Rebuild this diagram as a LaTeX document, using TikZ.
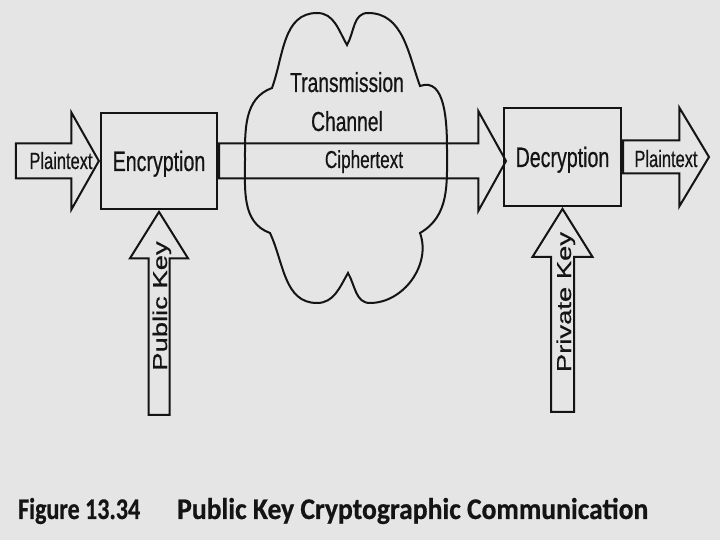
\documentclass[tikz,border=0pt]{standalone}
\usepackage{fontspec}
\usepackage{tikz}
\usetikzlibrary{shapes.arrows, positioning}
\newfontfamily\diafont{Liberation Sans}[FakeStretch=0.7, FakeBold=0.5]
\newfontfamily\keyfont{Liberation Sans}[FakeStretch=1.37, FakeBold=0.5]
\newfontfamily\capfont{Carlito}[FakeStretch=0.92, FakeBold=0.6]
\newfontfamily\capnumfont{Carlito}[FakeStretch=0.8, FakeBold=0.6]
\definecolor{paper}{gray}{0.9}
\definecolor{ink}{gray}{0.08}

\begin{document}
\begin{tikzpicture}[
    x=1pt, y=1pt,
    procbox/.style = {rectangle, draw=ink, line width=2pt, text=ink, inner sep=0pt, text height=20pt, text depth=0pt, font=\diafont\fontsize{28}{32}\selectfont},
    bigarrow/.style = {single arrow, draw=ink, line width=2pt, inner xsep=0pt},
    flowtext/.style = {text=ink, inner sep=0pt, anchor=base},
    keytext/.style = {text=ink, inner sep=0pt, anchor=base, rotate=90, font=\keyfont\fontsize{20}{24}\selectfont},
    cloudline/.style = {draw=ink, line width=2pt},
    captext/.style = {text=ink, inner sep=0pt, anchor=base west, font=\capfont\bfseries\fontsize{30}{34}\selectfont}
]

% Page
\fill [paper] (0,0) rectangle (720,540);
\useasboundingbox (0,0) rectangle (720,540);

% Transmission channel cloud
\draw [cloudline] (347,495) to[out=60,in=180] (368,527) to[out=0,in=110] (420,454)
    to[out=20,in=90] (447,390) to[out=-90,in=30] (420,307)
    to[out=-70,in=0] (370,237) to[out=180,in=-60] (348,267)
    to[out=-120,in=0] (317,237) to[out=180,in=-65] (270,307)
    to[out=160,in=-90] (245,380) to[out=90,in=-160] (272,452)
    to[out=70,in=180] (317,527) to[out=0,in=120] (347,495) -- cycle;
\node (chantop) [flowtext, font=\diafont\fontsize{27.5}{31}\selectfont, at={(347,448)}] {Transmission};
\node (chanbot) [flowtext, font=\diafont\fontsize{27.5}{31}\selectfont, at={(347,409)}] {Channel};

% Boxes
\node (enc) [procbox, minimum width=116pt, minimum height=96pt, at={(159,379)}] {Encryption};
\node (dec) [procbox, minimum width=117pt, minimum height=98pt, at={(562.5,383)}] {Decryption};

% Block arrows
\node (plainin) [bigarrow, anchor=tip, at={(enc.west)}, minimum height=83pt, inner ysep=16.5pt, single arrow head extend=31pt, single arrow tip angle=121] {};
\node (cipher) [bigarrow, anchor=tail, at={(enc.east)}, minimum height=287pt, inner ysep=16.5pt, single arrow head extend=32.5pt, single arrow tip angle=122] {};
\node (plainout) [bigarrow, anchor=tail, at={(dec.east)}, minimum height=86pt, inner ysep=15.5pt, single arrow head extend=33pt, single arrow tip angle=118] {};
\node (pubkey) [bigarrow, rotate=90, anchor=tip, at={(enc.south)}, minimum height=203pt, inner ysep=9.5pt, single arrow head extend=18.5pt, single arrow tip angle=64] {};
\node (privkey) [bigarrow, rotate=90, anchor=tip, at={(dec.south)}, minimum height=203pt, inner ysep=10.5pt, single arrow head extend=18.5pt, single arrow tip angle=64] {};

% Arrow texts
\node (plainintext) [flowtext, font=\diafont\fontsize{23.5}{27}\selectfont, at={(61,371)}] {Plaintext};
\node (ciphertext) [flowtext, font=\diafont\fontsize{24.5}{28}\selectfont, at={(364,372)}] {Ciphertext};
\node (plainouttext) [flowtext, font=\diafont\fontsize{23.5}{27}\selectfont, at={(666,373)}] {Plaintext};
\node (pubkeytext) [keytext, at={(167,234)}] {Public Key};
\node (privkeytext) [keytext, at={(571,238)}] {Private Key};

% Caption
\node (figno) [captext, font=\capnumfont\bfseries\fontsize{30}{34}\selectfont, at={(18,21)}] {Figure 13.34};
\node (figtitle) [captext, at={(177,21)}] {Public Key Cryptographic Communication};

\end{tikzpicture}
\end{document}
